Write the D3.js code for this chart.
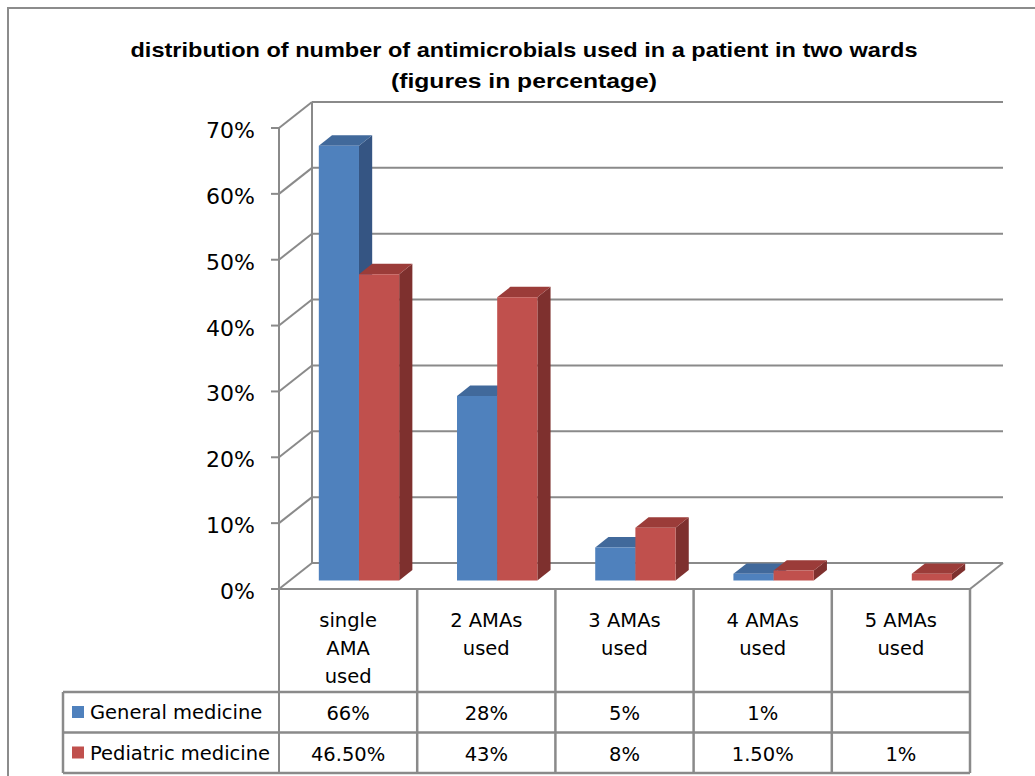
<!DOCTYPE html>
<html>
<head>
<meta charset="utf-8">
<script src="https://cdnjs.cloudflare.com/ajax/libs/d3/7.8.5/d3.min.js"></script>
<style>
  body { margin: 0; background: #fff; }
  svg { display: block; }
</style>
</head>
<body>
<div id="chart"></div>
<script>
var categories = ["single AMA used", "2 AMAs used", "3 AMAs used", "4 AMAs used", "5 AMAs used"];
var catLines = [["single", "AMA", "used"], ["2 AMAs", "used"], ["3 AMAs", "used"], ["4 AMAs", "used"], ["5 AMAs", "used"]];
var seriesNames = ["General medicine", "Pediatric medicine"];
var generalMedicine = [66, 28, 5, 1, null];
var pediatricMedicine = [46.5, 43, 8, 1.5, 1];
var generalLabels = ["66%", "28%", "5%", "1%", ""];
var pediatricLabels = ["46.50%", "43%", "8%", "1.50%", "1%"];
var yTicks = [0, 10, 20, 30, 40, 50, 60, 70];
var titleLines = ["distribution of number of antimicrobials used in a patient in two wards", "(figures in percentage)"];

var width = 1035, height = 776;
var gridColor = "#8a8a8a";
var colors = {
  "General medicine": {front: "#4f81bd", top: "#41699b", side: "#355583"},
  "Pediatric medicine": {front: "#c0504d", top: "#9b3c39", side: "#7e302e"}
};

// plot box (front plane) and depth of the 3d box
var plotLeft = 279, plotRight = 970, plotTop = 128, floorY = 589;
var depthX = 33, depthY = -26;
var barFront = 0.33, barBack = 0.73;
var tableTop = 692, rowH = 40.5, tableLeft = 63;

var svg = d3.select("#chart").append("svg")
  .attr("width", width)
  .attr("height", height);

// outer chart border
svg.append("rect")
  .attr("x", 8).attr("y", 8)
  .attr("width", width + 20).attr("height", height + 20)
  .attr("fill", "none").attr("stroke", "#8c8c8c").attr("stroke-width", 2);

var xScale = d3.scaleBand().domain(categories).range([plotLeft, plotRight]);
var sub = d3.scaleBand().domain(seriesNames).range([0, xScale.bandwidth()])
  .paddingInner(0).paddingOuter(0.72);
var yScale = d3.scaleLinear().domain([0, 70]).range([floorY, plotTop]);

function off(p, d) { return [p[0] + d * depthX, p[1] + d * depthY]; }

// title
svg.selectAll(".title").data(titleLines).enter().append("text")
  .attr("x", 524)
  .attr("y", function(d, i) { return 57 + i * 31; })
  .attr("text-anchor", "middle")
  .attr("font-family", "Liberation Sans, Arial, sans-serif")
  .attr("font-weight", "bold")
  .attr("font-size", 21)
  .attr("textLength", function(d, i) { return i == 0 ? 787 : 266; })
  .attr("lengthAdjust", "spacingAndGlyphs")
  .text(function(d) { return d; });

// walls: back gridlines + side diagonals
var grid = svg.append("g").attr("stroke", gridColor).attr("stroke-width", 2).attr("fill", "none");
yTicks.forEach(function(t) {
  var y = yScale(t);
  grid.append("line").attr("x1", plotLeft + depthX).attr("y1", y + depthY)
    .attr("x2", plotRight + depthX).attr("y2", y + depthY);
  grid.append("line").attr("x1", plotLeft).attr("y1", y)
    .attr("x2", plotLeft + depthX).attr("y2", y + depthY);
  grid.append("line").attr("x1", plotLeft - 8).attr("y1", y).attr("x2", plotLeft).attr("y2", y);
});
grid.append("line").attr("x1", plotLeft + depthX).attr("y1", yScale(0) + depthY)
  .attr("x2", plotLeft + depthX).attr("y2", yScale(70) + depthY);
// floor
grid.append("line").attr("x1", plotRight).attr("y1", floorY)
  .attr("x2", plotRight + depthX).attr("y2", floorY + depthY);

// bars, drawn left to right so the side faces get covered properly
var bars = [];
categories.forEach(function(c, i) {
  [generalMedicine[i], pediatricMedicine[i]].forEach(function(v, s) {
    if (v == null) return;
    bars.push({cat: c, series: seriesNames[s], value: v});
  });
});

var barG = svg.append("g");
bars.forEach(function(b) {
  var x0 = xScale(b.cat) + sub(b.series), x1 = x0 + sub.bandwidth();
  var y0 = yScale(0), y1 = yScale(b.value);
  var fl = off([x0, y1], barFront), fr = off([x1, y1], barFront),
      frb = off([x1, y0], barFront), flb = off([x0, y0], barFront),
      bl = off([x0, y1], barBack), br = off([x1, y1], barBack),
      brb = off([x1, y0], barBack);
  var col = colors[b.series];
  barG.append("polygon").attr("points", [fr, br, brb, frb].join(" ")).attr("fill", col.side);
  barG.append("polygon").attr("points", [fl, bl, br, fr].join(" ")).attr("fill", col.top);
  barG.append("polygon").attr("points", [fl, fr, frb, flb].join(" ")).attr("fill", col.front);
});

// front axis line and floor front edge
var axisG = svg.append("g").attr("stroke", gridColor).attr("stroke-width", 2);
axisG.append("line").attr("x1", plotLeft).attr("y1", plotTop).attr("x2", plotLeft).attr("y2", tableTop + 2 * rowH);
axisG.append("line").attr("x1", plotLeft - 8).attr("y1", floorY).attr("x2", plotRight).attr("y2", floorY);

// y tick labels
svg.selectAll(".ytick").data(yTicks).enter().append("text")
  .attr("x", 255)
  .attr("y", function(d) { return yScale(d) + 10; })
  .attr("text-anchor", "end")
  .attr("font-family", "DejaVu Sans, sans-serif")
  .attr("font-size", 22)
  .text(function(d) { return d + "%"; });

// data table
var tbl = svg.append("g").attr("stroke", gridColor).attr("stroke-width", 2.5).attr("fill", "none");
categories.forEach(function(c) {
  tbl.append("line").attr("x1", xScale(c) + xScale.bandwidth()).attr("y1", floorY)
    .attr("x2", xScale(c) + xScale.bandwidth()).attr("y2", tableTop + 2 * rowH);
});
[0, 1, 2].forEach(function(r) {
  tbl.append("line").attr("x1", tableLeft).attr("y1", tableTop + r * rowH)
    .attr("x2", plotRight).attr("y2", tableTop + r * rowH);
});
tbl.append("line").attr("x1", tableLeft).attr("y1", tableTop)
  .attr("x2", tableLeft).attr("y2", tableTop + 2 * rowH);

var font = "DejaVu Sans, sans-serif", fs = 19.5;
categories.forEach(function(c, i) {
  var cx = xScale(c) + xScale.bandwidth() / 2;
  catLines[i].forEach(function(line, j) {
    svg.append("text").attr("x", cx).attr("y", 627 + j * 28)
      .attr("text-anchor", "middle").attr("font-family", font).attr("font-size", fs)
      .text(line);
  });
  [generalLabels[i], pediatricLabels[i]].forEach(function(lbl, r) {
    svg.append("text").attr("x", cx).attr("y", tableTop + r * rowH + 28)
      .attr("text-anchor", "middle").attr("font-family", font).attr("font-size", fs)
      .text(lbl);
  });
});

seriesNames.forEach(function(s, r) {
  svg.append("rect").attr("x", 72).attr("y", tableTop + r * rowH + 14)
    .attr("width", 12).attr("height", 12).attr("fill", colors[s].front);
  svg.append("text").attr("x", 90).attr("y", tableTop + r * rowH + 27)
    .attr("font-family", font).attr("font-size", fs)
    .text(s);
});
</script>
</body>
</html>
